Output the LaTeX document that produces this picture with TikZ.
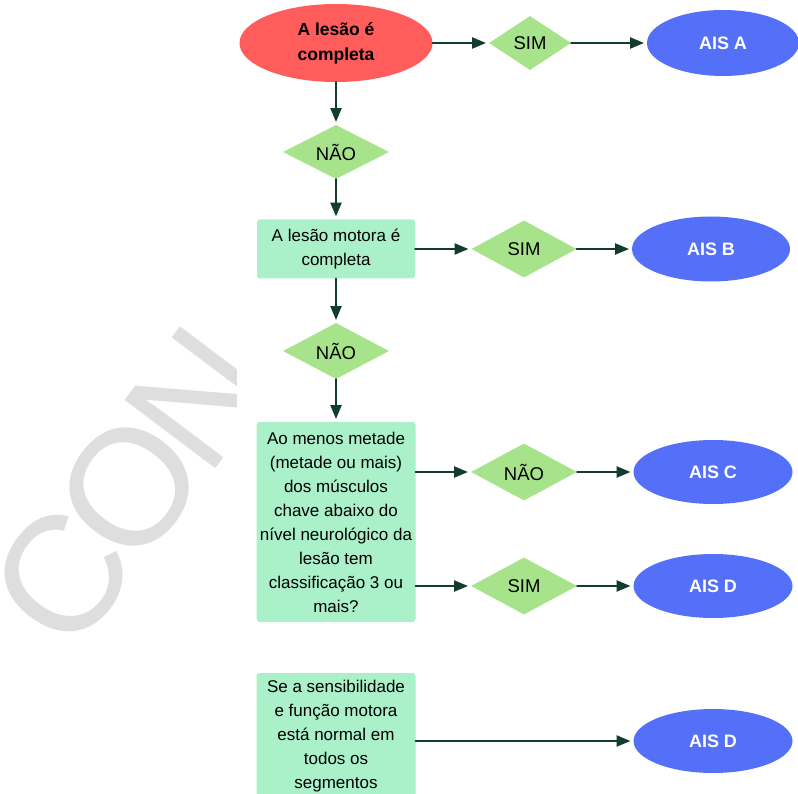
\documentclass[tikz,border=0pt]{standalone}
\usepackage{fontspec}
\setmainfont{Liberation Sans}
\usetikzlibrary{arrows}
\usetikzlibrary{positioning}
\usetikzlibrary{shapes.geometric}
\definecolor{vermelho}{HTML}{FF5C5C}
\definecolor{azul}{HTML}{5470F8}
\definecolor{verde}{HTML}{A6E38A}
\definecolor{menta}{HTML}{AAF0C9}
\definecolor{escuro}{HTML}{123D2A}
\definecolor{marca}{HTML}{DEDEDE}

\begin{document}
\begin{tikzpicture}[line cap=round,line join=round,>=triangle 45,x=1pt,y=-1pt,
seta/.style={->,color=escuro,line width=2.2pt,shorten >=3pt},
decisao/.style={diamond,fill=verde,inner sep=0pt,aspect=1.9,minimum width=106pt,minimum height=56pt,font=\fontsize{18.5}{22}\selectfont},
ais/.style={ellipse,fill=azul,text=white,inner sep=0pt,minimum width=159pt,minimum height=64pt,font=\fontsize{18}{22}\selectfont\bfseries},
caixa/.style={rectangle,rounded corners=3pt,fill=menta,inner sep=0pt,minimum width=159pt,align=center,font=\fontsize{17}{24}\selectfont}]
\useasboundingbox (0,0) rectangle (798,794);
\clip (0,0) rectangle (798,794);
\begin{scope}
\clip (0,0) rectangle (236,794);
\node[color=marca,rotate=53,font=\fontsize{165}{165}\selectfont\addfontfeatures{LetterSpace=-7}] (marca) at (130,487) {CON};
\end{scope}
\node[ellipse,fill=vermelho,minimum width=193pt,minimum height=78pt,inner sep=0pt,align=center,font=\fontsize{17.5}{25}\selectfont\bfseries] (lesao) at (336,43) {A lesão é\\completa};
\node[decisao,minimum width=82pt,minimum height=54pt] (sim1) at (530,43) {SIM};
\node[ais,minimum width=152pt,minimum height=66pt] (aisA) at (723,43) {AIS A};
\node[decisao,minimum height=54pt] (nao1) at (336,152) {NÃO};
\node[caixa,minimum width=158pt,minimum height=59pt] (motora) at (336,249) {A lesão motora é\\completa};
\node[decisao,minimum width=105pt,minimum height=57pt] (sim2) at (524,249) {SIM};
\node[ais,minimum width=158pt,minimum height=65pt] (aisB) at (711,249) {AIS B};
\node[decisao] (nao2) at (336,351) {NÃO};
\node[caixa,minimum height=200pt] (musculos) at (336,522) {Ao menos metade\\(metade ou mais)\\dos músculos\\chave abaixo do\\nível neurológico da\\lesão tem\\classificação 3 ou\\mais?};
\node[decisao,minimum height=57pt] (nao3) at (524,472) {NÃO};
\node[ais] (aisC) at (713,472) {AIS C};
\node[decisao,minimum height=57pt] (sim3) at (524,586) {SIM};
\node[ais] (aisD) at (713,586) {AIS D};
\node[caixa,minimum height=126pt] (normal) at (336,736) {Se a sensibilidade\\e função motora\\está normal em\\todos os\\segmentos};
\node[ais] (aisE) at (713,741) {AIS D};
\draw[seta] (lesao) -- (sim1);
\draw[seta] (sim1) -- (aisA);
\draw[seta] (lesao) -- (nao1);
\draw[seta] (nao1) -- (motora);
\draw[seta] (motora) -- (sim2);
\draw[seta] (sim2) -- (aisB);
\draw[seta] (motora) -- (nao2);
\draw[seta] (nao2) -- (musculos);
\draw[seta] (musculos.east |- nao3) -- (nao3);
\draw[seta] (nao3) -- (aisC);
\draw[seta] (musculos.east |- sim3) -- (sim3);
\draw[seta] (sim3) -- (aisD);
\draw[seta] (normal.east |- aisE) -- (aisE);
\end{tikzpicture}
\end{document}
